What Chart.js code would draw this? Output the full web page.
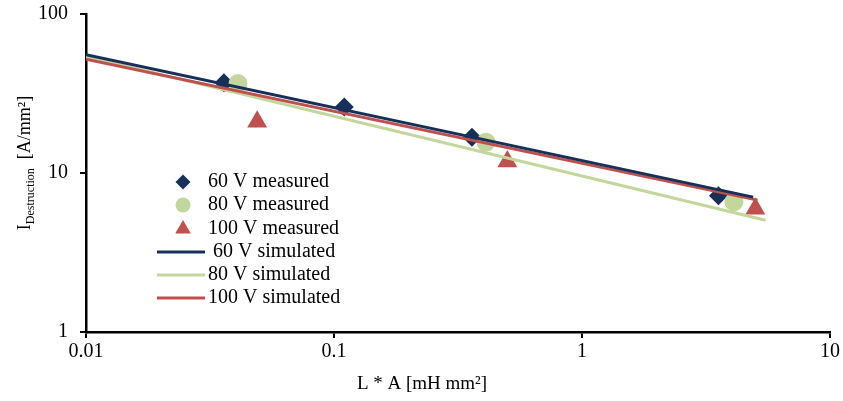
<!DOCTYPE html>
<html>
<head>
<meta charset="utf-8">
<script src="https://cdn.jsdelivr.net/npm/chart.js@4/dist/chart.umd.min.js"></script>
<style>
  html, body { margin: 0; padding: 0; background: #fff; }
  #c { display: block; }
</style>
</head>
<body>
<canvas id="c" width="843" height="401"></canvas>
<script>
// ---- data ----
const xTickValues = [0.01, 0.1, 1, 10];
const xTickLabels = ['0.01', '0.1', '1', '10'];
const yTickValues = [1, 10, 100];
const yTickLabels = ['1', '10', '100'];

const m60x = [0.036, 0.11, 0.36, 3.55];
const m60y = [37, 26, 16.8, 7.2];
const m80x = [0.041, 0.41, 4.1];
const m80y = [36.5, 15.6, 6.6];
const m100x = [0.049, 0.5, 5.0];
const m100y = [21, 11.8, 5.95];

const s60x = [0.01, 4.9];
const s60y = [55.5, 7.05];
const s80x = [0.01, 5.5];
const s80y = [54, 5.05];
const s100x = [0.01, 5.1];
const s100y = [52, 6.75];

const seriesLabels = ['60 V measured', '80 V measured', '100 V measured',
                      '60 V simulated', '80 V simulated', '100 V simulated'];
const xTitle = 'L * A [mH mm\u00B2]';

const NAVY = '#17305A', GREEN = '#C3D69B', RED = '#C0504D';
const FONT = '"Liberation Serif", "Times New Roman", serif';

const pts = (xs, ys) => xs.map((x, i) => ({ x: x, y: ys[i] }));

const datasets = [
  { label: seriesLabels[0], data: pts(m60x, m60y), pointStyle: 'rectRot', pointRadius: 9.5,
    backgroundColor: NAVY, borderColor: NAVY, borderWidth: 0, showLine: false, order: 5 },
  { label: seriesLabels[1], data: pts(m80x, m80y), pointStyle: 'circle', pointRadius: 9.5,
    backgroundColor: GREEN, borderColor: GREEN, borderWidth: 0, showLine: false, order: 4 },
  { label: seriesLabels[2], data: pts(m100x, m100y), pointStyle: 'triangle', pointRadius: 11.5,
    backgroundColor: RED, borderColor: RED, borderWidth: 0, showLine: false, order: 3 },
  { label: seriesLabels[3], data: pts(s60x, s60y), showLine: true, pointRadius: 0,
    borderColor: NAVY, backgroundColor: NAVY, borderWidth: 3, order: 0 },
  { label: seriesLabels[4], data: pts(s80x, s80y), showLine: true, pointRadius: 0,
    borderColor: GREEN, backgroundColor: GREEN, borderWidth: 3, order: 2 },
  { label: seriesLabels[5], data: pts(s100x, s100y), showLine: true, pointRadius: 0,
    borderColor: RED, backgroundColor: RED, borderWidth: 3, order: 1 }
];

function drawMarker(ctx, style, x, y, r, color) {
  ctx.fillStyle = color;
  ctx.beginPath();
  if (style === 'rectRot') {
    ctx.moveTo(x - r, y); ctx.lineTo(x, y - r); ctx.lineTo(x + r, y); ctx.lineTo(x, y + r);
  } else if (style === 'circle') {
    ctx.arc(x, y, r, 0, Math.PI * 2);
  } else if (style === 'triangle') {
    for (let k = 0; k < 3; k++) {
      const a = k * 2 * Math.PI / 3;
      const px = x + Math.sin(a) * r, py = y - Math.cos(a) * r;
      if (k === 0) ctx.moveTo(px, py); else ctx.lineTo(px, py);
    }
  }
  ctx.closePath();
  ctx.fill();
}

const customText = {
  id: 'customText',
  afterDraw(chart) {
    const ctx = chart.ctx;
    ctx.save();
    // legend
    const rows = [182, 205, 229, 252, 275, 298];
    const mr = [7.5, 7.5, 9];
    chart.data.datasets.forEach((ds, i) => {
      const y = rows[i];
      if (i < 3) {
        drawMarker(ctx, ds.pointStyle, 183, y, mr[i], ds.backgroundColor);
      } else {
        ctx.strokeStyle = ds.borderColor;
        ctx.lineWidth = 3;
        ctx.beginPath(); ctx.moveTo(157, y); ctx.lineTo(205, y); ctx.stroke();
      }
      ctx.fillStyle = '#000';
      ctx.font = '20px ' + FONT;
      ctx.textBaseline = 'middle';
      ctx.textAlign = 'left';
      ctx.fillText(ds.label, i === 3 ? 213 : 208, y);
    });

    // x title (centered on canvas)
    ctx.font = '19px ' + FONT;
    ctx.textAlign = 'center';
    ctx.textBaseline = 'middle';
    ctx.fillText(xTitle, 422, 384);

    // y title with subscript
    ctx.translate(30, 163);
    ctx.rotate(-Math.PI / 2);
    const fMain = '18px ' + FONT, fSub = '12px ' + FONT;
    const parts = [['I', fMain, 0], ['Destruction', fSub, 4], ['  [A/mm\u00B2]', fMain, 0]];
    let total = 0;
    parts.forEach(p => { ctx.font = p[1]; total += ctx.measureText(p[0]).width; });
    let cx = -total / 2;
    ctx.textAlign = 'left';
    ctx.textBaseline = 'alphabetic';
    parts.forEach(p => {
      ctx.font = p[1];
      ctx.fillText(p[0], cx, p[2]);
      cx += ctx.measureText(p[0]).width;
    });
    ctx.restore();
  }
};

new Chart(document.getElementById('c'), {
  type: 'scatter',
  data: { datasets: datasets },
  options: {
    responsive: false,
    animation: false,
    devicePixelRatio: 1,
    layout: { padding: { left: 0, right: 13, top: 14, bottom: 0 } },
    plugins: { legend: { display: false }, tooltip: { enabled: false } },
    scales: {
      x: {
        type: 'logarithmic', position: 'bottom', min: 0.01, max: 10,
        afterBuildTicks: s => { s.ticks = xTickValues.map(v => ({ value: v })); },
        afterFit: s => { s.height = 69; s.paddingLeft = 0; s.paddingRight = 0; },
        ticks: {
          autoSkip: false, maxRotation: 0, padding: 2, color: '#000',
          font: { family: FONT, size: 20 },
          callback: (v, i) => xTickLabels[i]
        },
        grid: { drawOnChartArea: false, drawTicks: true, tickLength: 6, color: '#000', lineWidth: 2 },
        border: { display: true, color: '#000', width: 2.5 }
      },
      y: {
        type: 'logarithmic', position: 'left', min: 1, max: 100,
        afterBuildTicks: s => { s.ticks = yTickValues.map(v => ({ value: v })); },
        afterFit: s => { s.width = 86; s.paddingTop = 0; s.paddingBottom = 0; },
        ticks: {
          autoSkip: false, padding: 12, color: '#000',
          font: { family: FONT, size: 20 },
          callback: (v, i) => yTickLabels[i]
        },
        grid: { drawOnChartArea: false, drawTicks: true, tickLength: 6, color: '#000', lineWidth: 2 },
        border: { display: true, color: '#000', width: 2.5 }
      }
    }
  },
  plugins: [customText]
});
</script>
</body>
</html>
